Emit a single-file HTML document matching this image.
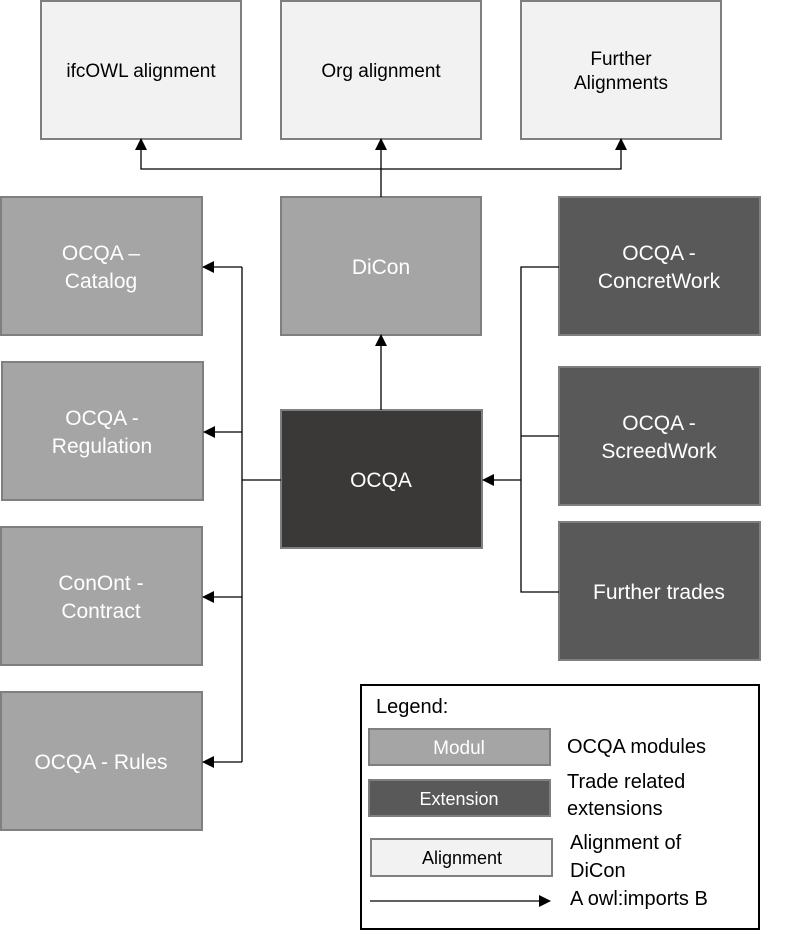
<!DOCTYPE html>
<html><head><meta charset="utf-8"><style>
body{margin:0;background:#fff;}
svg text{font-family:"Liberation Sans",Arial,sans-serif;}
</style></head><body>
<svg width="805" height="932" viewBox="0 0 805 932" xmlns="http://www.w3.org/2000/svg">
<defs><marker id="a" markerWidth="12" markerHeight="12" refX="11" refY="6" orient="auto" markerUnits="userSpaceOnUse"><path d="M0,0 L12,6 L0,12 z" fill="#000"/></marker></defs>
<g stroke="#7f7f7f" stroke-width="2">
<rect x="41" y="1" width="200" height="138" fill="#f2f2f2"/>
<rect x="281" y="1" width="200" height="138" fill="#f2f2f2"/>
<rect x="521" y="1" width="200" height="138" fill="#f2f2f2"/>
<rect x="1" y="197" width="201" height="138" fill="#a5a5a5"/>
<rect x="2" y="362" width="201" height="138" fill="#a5a5a5"/>
<rect x="1" y="527" width="201" height="138" fill="#a5a5a5"/>
<rect x="1" y="692" width="201" height="138" fill="#a5a5a5"/>
<rect x="281" y="197" width="200" height="138" fill="#a5a5a5"/>
<rect x="281" y="410" width="201" height="138" fill="#3b3938"/>
<rect x="559" y="197" width="201" height="138" fill="#595959"/>
<rect x="559" y="367" width="201" height="138" fill="#595959"/>
<rect x="559" y="522" width="201" height="138" fill="#595959"/>
<rect x="369" y="729" width="181" height="36" fill="#a5a5a5"/>
<rect x="369" y="780" width="181" height="36" fill="#595959"/>
<rect x="371" y="839" width="181" height="37" fill="#f2f2f2"/>
</g>
<rect x="361" y="685" width="398" height="244" fill="none" stroke="#000" stroke-width="2"/>
<g stroke="#000" stroke-width="1.3" fill="none">
<path d="M381 197 V169 H141 V139" marker-end="url(#a)"/>
<path d="M381 169 V139" marker-end="url(#a)"/>
<path d="M381 169 H621 V139" marker-end="url(#a)"/>
<path d="M381 410 V335" marker-end="url(#a)"/>
<path d="M281 480 H242"/>
<path d="M242 267 V762"/>
<path d="M242 267 H203" marker-end="url(#a)"/>
<path d="M242 432 H204" marker-end="url(#a)"/>
<path d="M242 597 H203" marker-end="url(#a)"/>
<path d="M242 762 H203" marker-end="url(#a)"/>
<path d="M559 267 H521 V592 H559"/>
<path d="M521 436 H559"/>
<path d="M521 480 H483" marker-end="url(#a)"/>
<path d="M370 901 H550" marker-end="url(#a)"/>
</g>
<g font-size="19" text-anchor="middle" fill="#000">
<text x="141" y="77">ifcOWL alignment</text>
<text x="381" y="77">Org alignment</text>
<text x="621" y="65">Further</text><text x="621" y="89">Alignments</text>
</g>
<g font-size="21" text-anchor="middle" fill="#fff">
<text x="101" y="260">OCQA –</text><text x="101" y="288">Catalog</text>
<text x="102" y="425">OCQA -</text><text x="102" y="453">Regulation</text>
<text x="101" y="590">ConOnt -</text><text x="101" y="618">Contract</text>
<text x="101" y="769">OCQA - Rules</text>
<text x="381" y="274">DiCon</text>
<text x="381" y="487">OCQA</text>
<text x="659" y="260">OCQA -</text><text x="659" y="288">ConcretWork</text>
<text x="659" y="430">OCQA -</text><text x="659" y="458">ScreedWork</text>
<text x="659" y="599">Further trades</text>
<text x="459" y="754" font-size="19">Modul</text>
<text x="459" y="805" font-size="18">Extension</text>
<text x="462" y="864" font-size="18" fill="#000">Alignment</text>
</g>
<g font-size="20" fill="#000">
<text x="376" y="713">Legend:</text>
<text x="567" y="753">OCQA modules</text>
<text x="567" y="788">Trade related</text><text x="567" y="815">extensions</text>
<text x="570" y="849">Alignment  of</text><text x="570" y="877">DiCon</text>
<text x="570" y="905">A owl:imports  B</text>
</g>
</svg>
</body></html>
